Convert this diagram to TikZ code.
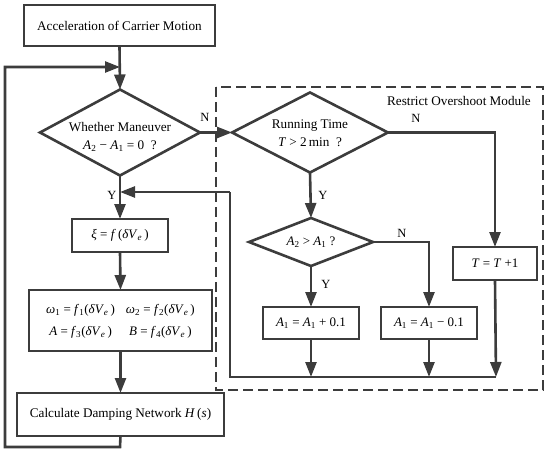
\documentclass[tikz,border=0pt]{standalone}
\usepackage{fontspec}
\setmainfont{Liberation Serif}
\usetikzlibrary{arrows.meta}
\definecolor{dk}{HTML}{3C3C3C}
\newcommand{\iv}[1]{\textit{#1}}
\newcommand{\sbs}[1]{\textsubscript{#1}}
\newcommand{\dVe}{\iv{δV}\sbs{\iv{e}}}
\begin{document}
\begin{tikzpicture}[x=1pt,y=-1pt,
  ln/.style={draw=dk, line width=2.6pt},
  arr/.style={ln, -{Triangle[length=15pt,width=11pt]}},
  boxn/.style={draw=dk, line width=2.6pt, inner sep=0pt, outer sep=0pt, align=center, text=black},
  dianode/.style={inner sep=0pt, outer sep=0pt},
  lbl/.style={inner sep=0pt, text=black, font=\fontsize{12.5}{14}\selectfont},
  txt/.style={font=\fontsize{13.2}{19}\selectfont, align=center, text=black},
  frm/.style={font=\fontsize{13}{20}\selectfont},
  line join=miter]
\useasboundingbox (0,0) rectangle (550,453);
% dashed module frame
\draw[dk, line width=1.6pt, dash pattern=on 10pt off 5pt] (216,87) rectangle (543,390);
\node[lbl, anchor=east, font=\fontsize{13.2}{15}\selectfont] (mod) at (531,101) {Restrict Overshoot Module};
% nodes
\node[boxn, txt, minimum width=191pt, minimum height=41pt] (top) at (119.5,25.5) {Acceleration of Carrier Motion};
\node[dianode, minimum width=160pt, minimum height=86pt] (d1) at (120,132.5) {};
\node[txt] (d1t) at ([yshift=-4.5pt]d1.center) {Whether Maneuver\\[-1pt]\iv{A}\sbs{2} − \iv{A}\sbs{1} = 0 \ ?};
\node[dianode, minimum width=156pt, minimum height=80pt] (d2) at (310,132.5) {};
\node[txt] (d2t) at ([yshift=-0.5pt]d2.center) {Running Time\\[-1pt]\iv{T} > 2\,min \ ?};
\node[dianode, minimum width=124pt, minimum height=48pt] (d3) at (311,242) {};
\node[txt, frm] (d3t) at (d3.center) {\iv{A}\sbs{2} > \iv{A}\sbs{1} ?};
\foreach \d in {d1,d2,d3}
  \draw[ln] (\d.north) -- (\d.east) -- (\d.south) -- (\d.west) -- cycle;
\node[boxn, frm, minimum width=96pt, minimum height=33pt] (xi) at (120,235.5) {\iv{ξ} = \iv{f}\,(\dVe\,)};
\node[boxn, frm, minimum width=183pt, minimum height=61pt] (om) at (120.5,320.5)
  {\begin{tabular}{@{}c@{\hspace{11pt}}c@{}}\iv{ω}\sbs{1} = \iv{f}\sbs{1}(\dVe\,) & \iv{ω}\sbs{2} = \iv{f}\sbs{2}(\dVe\,)\\[2pt]
   \iv{A} = \iv{f}\sbs{3}(\dVe\,) & \iv{B} = \iv{f}\sbs{4}(\dVe\,)\end{tabular}};
\node[boxn, txt, minimum width=207pt, minimum height=43pt] (calc) at (120.5,414.5) {Calculate Damping Network \iv{H}\,(\iv{s})};
\node[boxn, frm, minimum width=84pt, minimum height=33pt] (tt) at (495,263.5) {\iv{T} = \iv{T} +1};
\node[boxn, frm, minimum width=96pt, minimum height=32pt] (ap) at (311,323) {\iv{A}\sbs{1} = \iv{A}\sbs{1} + 0.1};
\node[boxn, frm, minimum width=96pt, minimum height=32pt] (am) at (429,323) {\iv{A}\sbs{1} = \iv{A}\sbs{1} − 0.1};
% junction coordinates
\coordinate (j1) at (120,67);
\coordinate (j2) at (120,192);
\coordinate (bl) at (230,377);
\coordinate (br) at (496,377);
% connectors
\draw[arr] (top.south) -- (d1.north);
\draw[arr] (calc.south) -- (120,447) -- (5,447) -- (5,67) -- (j1);
\draw[arr] (d1.east) -- (d2.west);
\draw[arr] (d1.south) -- (xi.north);
\draw[arr] (xi.south) -- (om.north);
\draw[arr] (om.south) -- (calc.north);
\draw[arr] (d2.east) -| (tt.north);
\draw[arr] (d2.south) -- (d3.north);
\draw[arr] (d3.east) -| (am.north);
\draw[arr] (d3.south) -- (ap.north);
\draw[arr] (ap.south) -- (ap.south |- bl);
\draw[arr] (am.south) -- (am.south |- bl);
\draw[arr] (tt.south) -- (br);
\draw[ln] (br) -- (bl) -- (230,192);
\draw[arr] (230,192) -- (j2);
% labels
\node[lbl] (n1) at (205,117) {N};
\node[lbl] (y1) at (112,195) {Y};
\node[lbl] (n2) at (416,118) {N};
\node[lbl] (y2) at (323,195) {Y};
\node[lbl] (n3) at (402,233) {N};
\node[lbl] (y3) at (326,284) {Y};
\end{tikzpicture}
\end{document}
